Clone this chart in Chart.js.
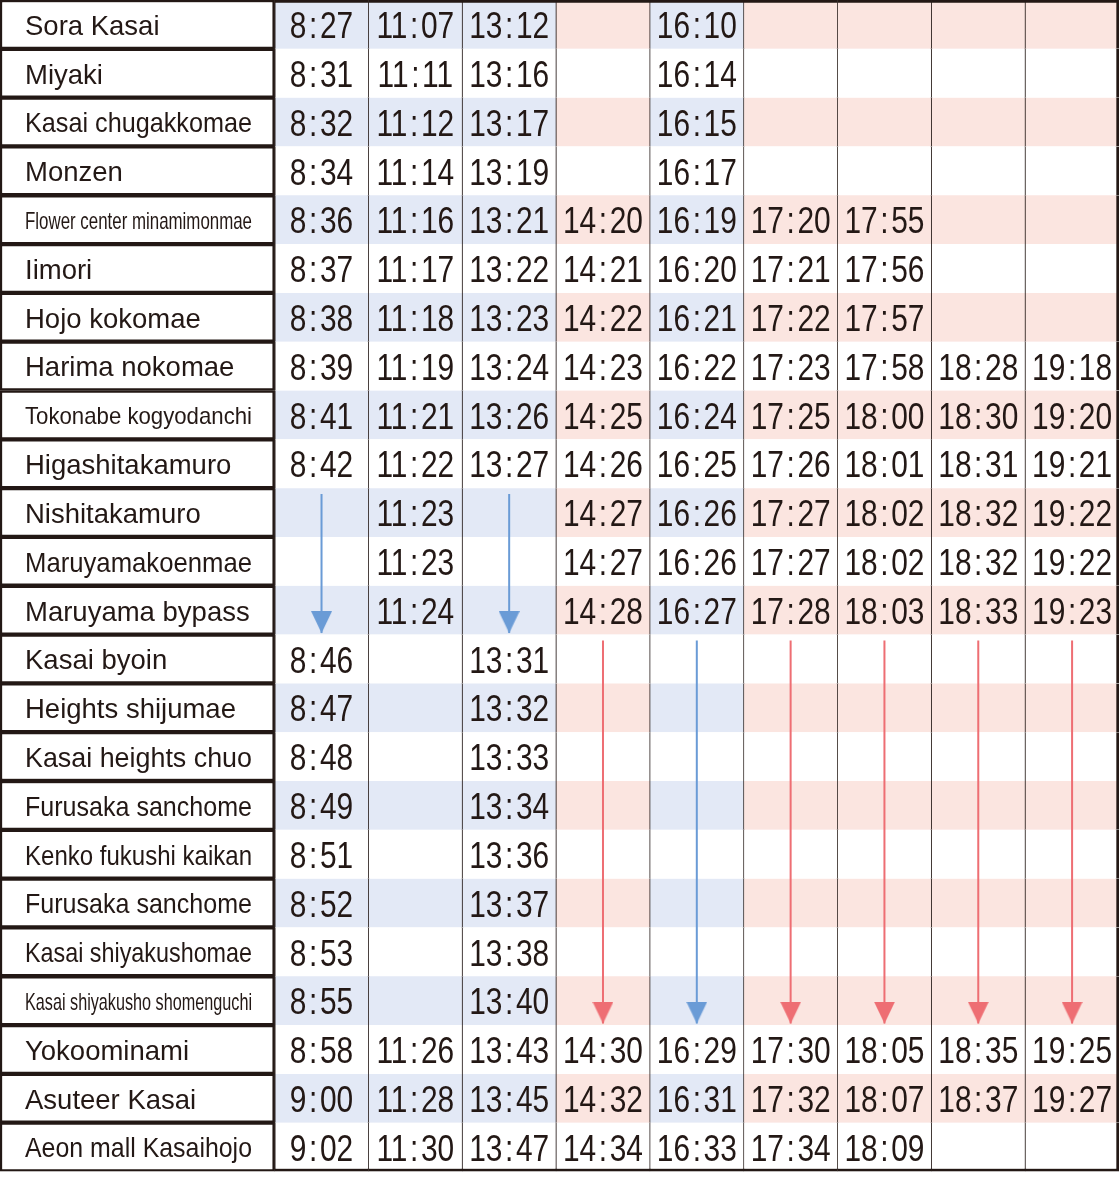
<!DOCTYPE html>
<html>
<head>
<meta charset="utf-8">
<script src="https://cdn.jsdelivr.net/npm/chart.js@4.4.1/dist/chart.umd.min.js"></script>
<style>
html,body{margin:0;padding:0;background:#ffffff;}
canvas{display:block;}
</style>
</head>
<body>
<canvas id="c" width="1120" height="1177"></canvas>
<script>
// ---------- DATA ----------
const stations = [
  'Sora Kasai', 'Miyaki', 'Kasai chugakkomae', 'Monzen', 'Flower center minamimonmae',
  'Iimori', 'Hojo kokomae', 'Harima nokomae', 'Tokonabe kogyodanchi', 'Higashitakamuro',
  'Nishitakamuro', 'Maruyamakoenmae', 'Maruyama bypass', 'Kasai byoin', 'Heights shijumae',
  'Kasai heights chuo', 'Furusaka sanchome', 'Kenko fukushi kaikan', 'Furusaka sanchome',
  'Kasai shiyakushomae', 'Kasai shiyakusho shomenguchi', 'Yokoominami', 'Asuteer Kasai',
  'Aeon mall Kasaihojo'
];

const trip1 = ['8:27','8:31','8:32','8:34','8:36','8:37','8:38','8:39','8:41','8:42',
  null,null,null,'8:46','8:47','8:48','8:49','8:51','8:52','8:53','8:55','8:58','9:00','9:02'];
const trip2 = ['11:07','11:11','11:12','11:14','11:16','11:17','11:18','11:19','11:21','11:22',
  '11:23','11:23','11:24',null,null,null,null,null,null,null,null,'11:26','11:28','11:30'];
const trip3 = ['13:12','13:16','13:17','13:19','13:21','13:22','13:23','13:24','13:26','13:27',
  null,null,null,'13:31','13:32','13:33','13:34','13:36','13:37','13:38','13:40','13:43','13:45','13:47'];
const trip4 = [null,null,null,null,'14:20','14:21','14:22','14:23','14:25','14:26',
  '14:27','14:27','14:28',null,null,null,null,null,null,null,null,'14:30','14:32','14:34'];
const trip5 = ['16:10','16:14','16:15','16:17','16:19','16:20','16:21','16:22','16:24','16:25',
  '16:26','16:26','16:27',null,null,null,null,null,null,null,null,'16:29','16:31','16:33'];
const trip6 = [null,null,null,null,'17:20','17:21','17:22','17:23','17:25','17:26',
  '17:27','17:27','17:28',null,null,null,null,null,null,null,null,'17:30','17:32','17:34'];
const trip7 = [null,null,null,null,'17:55','17:56','17:57','17:58','18:00','18:01',
  '18:02','18:02','18:03',null,null,null,null,null,null,null,null,'18:05','18:07','18:09'];
const trip8 = [null,null,null,null,null,null,null,'18:28','18:30','18:31',
  '18:32','18:32','18:33',null,null,null,null,null,null,null,null,'18:35','18:37',null];
const trip9 = [null,null,null,null,null,null,null,'19:18','19:20','19:21',
  '19:22','19:22','19:23',null,null,null,null,null,null,null,null,'19:25','19:27',null];

const trips = [trip1, trip2, trip3, trip4, trip5, trip6, trip7, trip8, trip9];
const tripRoute = ['blue','blue','blue','red','blue','red','red','red','red'];

// pass-through arrows: trip column, first skipped stop row, last skipped stop row
const arrowTrip = [0, 2, 3, 4, 5, 6, 7, 8];
const arrowFrom = [10, 10, 13, 13, 13, 13, 13, 13];
const arrowTo   = [12, 12, 20, 20, 20, 20, 20, 20];

// ---------- STYLE ----------
const INK = '#231815';
const SHADE = { blue: '#e3e9f6', red: '#fbe5e0' };
const ARROW = { blue: '#6a9bd6', red: '#ee6e73' };
const LABEL_UNITS = 2.927;      // width of station-name column, in trip-column units
const TIME_FONT_PX = 36;
const TIME_SX = 0.83;
const COLON_GAP = 2.6;
const NAME_FONT_PX = 27.5;
const NAME_SMALL_PX = 24;
const NAME_MAX_W = 227;
const FONT_FAMILY = '"Liberation Sans", Arial, Helvetica, sans-serif';

function headImage(color) {
  const c = document.createElement('canvas');
  c.width = 21; c.height = 44;
  const g = c.getContext('2d');
  g.fillStyle = color;
  g.beginPath();
  g.moveTo(0, 0); g.lineTo(21, 0); g.lineTo(10.5, 22); g.closePath();
  g.fill();
  return c;
}
const HEADS = { blue: headImage(ARROW.blue), red: headImage(ARROW.red) };

const nRows = stations.length;
const nCols = trips.length;

const labelDataset = {
  type: 'bar', indexAxis: 'y', grouped: false, order: 2,
  data: stations.map((_, r) => ({ x: [-LABEL_UNITS, 0], y: r + 0.5 })),
  backgroundColor: '#ffffff',
  borderColor: INK,
  borderWidth: 2.5,
  borderSkipped: false,
  barPercentage: 1, categoryPercentage: 1
};

const cellDatasets = trips.map((times, c) => ({
  type: 'bar', indexAxis: 'y', grouped: false, order: 2,
  data: stations.map((_, r) => ({ x: [c, c + 1], y: r + 0.5 })),
  backgroundColor: stations.map((_, r) => r % 2 === 0 ? SHADE[tripRoute[c]] : '#ffffff'),
  borderColor: INK,
  borderWidth: stations.map((_, r) => ({
    top: r === 0 ? 3 : 0,
    bottom: r === nRows - 1 ? 3 : 0,
    left: c === 0 ? 1.2 : 0.7,
    right: c === nCols - 1 ? 3 : 0.7
  })),
  borderSkipped: false,
  barPercentage: 1, categoryPercentage: 1
}));

const arrowDatasets = arrowTrip.map((c, i) => ({
  type: 'line', order: 0,
  data: [
    { x: c + 0.5, y: arrowFrom[i] + 0.12 },
    { x: c + 0.5, y: arrowTo[i] + 1 - 0.03 }
  ],
  borderColor: ARROW[tripRoute[c]],
  backgroundColor: ARROW[tripRoute[c]],
  borderWidth: 2,
  pointRadius: [0, 6],
  pointHoverRadius: [0, 6],
  pointStyle: HEADS[tripRoute[c]],
  fill: false,
  tension: 0,
  clip: false
}));

const textPlugin = {
  id: 'timetableText',
  afterDatasetsDraw(chart) {
    const { ctx } = chart;
    const xs = chart.scales.x, ys = chart.scales.y;
    ctx.save();
    ctx.fillStyle = INK;
    ctx.textBaseline = 'alphabetic';
    ctx.textAlign = 'left';
    const nameLeft = xs.getPixelForValue(-LABEL_UNITS) + 25;
    stations.forEach((name, r) => {
      const cy = ys.getPixelForValue(r + 0.5);
      let size = NAME_FONT_PX;
      ctx.font = size + 'px ' + FONT_FAMILY;
      let w = ctx.measureText(name).width;
      if (w > 275) {
        size = NAME_SMALL_PX;
        ctx.font = size + 'px ' + FONT_FAMILY;
        w = ctx.measureText(name).width;
      }
      const sx = w > NAME_MAX_W ? NAME_MAX_W / w : 1;
      ctx.save();
      ctx.translate(nameLeft, cy + size * 0.716 / 2 + 0.5);
      ctx.scale(sx, 1);
      ctx.fillText(name, 0, 0);
      ctx.restore();
    });
    ctx.font = TIME_FONT_PX + 'px ' + FONT_FAMILY;
    const capH = TIME_FONT_PX * 0.716;
    trips.forEach((times, c) => {
      const cx = xs.getPixelForValue(c + 0.5);
      times.forEach((t, r) => {
        if (!t) return;
        const cy = ys.getPixelForValue(r + 0.5);
        const parts = t.split(':');
        const hw = ctx.measureText(parts[0]).width;
        const cw = ctx.measureText(':').width + 2 * COLON_GAP / TIME_SX;
        const mw = ctx.measureText(parts[1]).width;
        const total = (hw + cw + mw) * TIME_SX;
        ctx.save();
        ctx.translate(cx - total / 2, cy + capH / 2 + 0.8);
        ctx.scale(TIME_SX, 1);
        ctx.fillText(parts[0], 0, 0);
        ctx.fillText(':', hw + COLON_GAP / TIME_SX, 0);
        ctx.fillText(parts[1], hw + cw, 0);
        ctx.restore();
      });
    });
    ctx.restore();
  }
};

new Chart(document.getElementById('c'), {
  type: 'bar',
  data: { datasets: [labelDataset, ...cellDatasets, ...arrowDatasets] },
  options: {
    responsive: false,
    animation: false,
    events: [],
    layout: { autoPadding: false, padding: { left: 0, top: 0, right: 1, bottom: 5.5 } },
    scales: {
      x: { type: 'linear', offset: false, min: -LABEL_UNITS, max: nCols, display: false,
           grace: 0, grid: { display: false, offset: false } },
      y: { type: 'linear', offset: false, min: 0, max: nRows, reverse: true, display: false,
           grace: 0, ticks: { stepSize: 1 }, grid: { display: false, offset: false } }
    },
    plugins: { legend: { display: false }, tooltip: { enabled: false } }
  },
  plugins: [textPlugin]
});
</script>
</body>
</html>
